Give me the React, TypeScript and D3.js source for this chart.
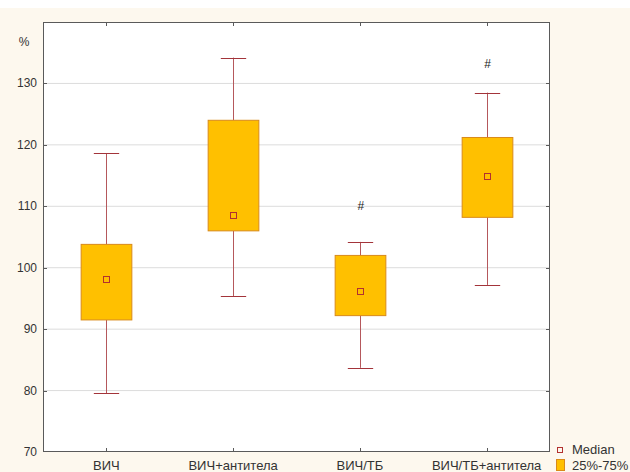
import React, { useEffect, useRef } from 'react';
import * as d3 from 'd3';

// groups and box stats (in %)
const groups = ['ВИЧ', 'ВИЧ+антитела', 'ВИЧ/ТБ', 'ВИЧ/ТБ+антитела'];
const whiskerMin = [79.6, 95.4, 83.7, 97.2];
const q25 = [91.5, 106.0, 92.2, 108.2];
const medians = [98.2, 108.6, 96.2, 115.0];
const q75 = [103.8, 124.0, 102.0, 121.2];
const whiskerMax = [118.6, 134.2, 104.2, 128.5];
// significance marks (#) above groups
const markGroups = ['ВИЧ/ТБ', 'ВИЧ/ТБ+антитела'];
const markValues = [110.0, 133.2];
const yTicks = [70, 80, 90, 100, 110, 120, 130];

const App = () => {
  const ref = useRef<SVGSVGElement>(null);

  useEffect(() => {
    const svg = d3.select(ref.current);
    svg.selectAll('*').remove();

    const width = 630;
    const height = 472;
    const left = 43, right = 550, top = 22, bottom = 452;
    const font = '"Liberation Sans", Arial, sans-serif';

    const x = d3.scaleBand().domain(groups).range([left, right]).padding(0);
    const y = d3.scaleLinear().domain([70, 140]).range([bottom, top]);
    const boxW = x.bandwidth() * 0.4;
    const capW = x.bandwidth() * 0.2;

    // background
    svg.append('rect').attr('x', 0).attr('y', 8).attr('width', width).attr('height', height - 8).attr('fill', '#fdf8ee');
    svg.append('rect').attr('x', left).attr('y', top).attr('width', right - left).attr('height', bottom - top).attr('fill', '#ffffff');

    // grid
    svg.append('g')
      .selectAll('line')
      .data(yTicks.slice(1))
      .join('line')
      .attr('x1', left).attr('x2', right)
      .attr('y1', d => y(d)).attr('y2', d => y(d))
      .attr('stroke', '#dcdcdc').attr('stroke-width', 1);

    const data = groups.map((g, i) => ({
      g, lo: whiskerMin[i], q1: q25[i], med: medians[i], q3: q75[i], hi: whiskerMax[i],
    }));

    const boxes = svg.append('g');
    data.forEach(d => {
      const cx = Math.round(x(d.g)! + x.bandwidth() / 2) + 0.5;
      // whisker stems
      boxes.append('line').attr('x1', cx).attr('x2', cx).attr('y1', y(d.hi)).attr('y2', y(d.q3))
        .attr('stroke', '#b5585c').attr('stroke-width', 1);
      boxes.append('line').attr('x1', cx).attr('x2', cx).attr('y1', y(d.q1)).attr('y2', y(d.lo))
        .attr('stroke', '#b5585c').attr('stroke-width', 1);
      // caps
      [d.hi, d.lo].forEach(v => {
        boxes.append('line').attr('x1', cx - capW / 2).attr('x2', cx + capW / 2)
          .attr('y1', Math.round(y(v)) + 0.5).attr('y2', Math.round(y(v)) + 0.5)
          .attr('stroke', '#a3343a').attr('stroke-width', 1);
      });
      // box
      boxes.append('rect')
        .attr('x', cx - boxW / 2).attr('y', y(d.q3))
        .attr('width', boxW).attr('height', y(d.q1) - y(d.q3))
        .attr('fill', '#ffc000').attr('stroke', '#d98a1a').attr('stroke-width', 1);
      // median marker
      boxes.append('rect')
        .attr('x', cx - 3).attr('y', Math.round(y(d.med)) - 2.5)
        .attr('width', 6).attr('height', 6)
        .attr('fill', 'none').attr('stroke', '#b2312f').attr('stroke-width', 1);
    });

    // # marks
    svg.append('g')
      .selectAll('text')
      .data(markGroups.map((g, i) => ({ g, v: markValues[i] })))
      .join('text')
      .attr('x', d => x(d.g)! + x.bandwidth() / 2 + 1)
      .attr('y', d => y(d.v) + 4)
      .attr('text-anchor', 'middle')
      .attr('font-family', font).attr('font-size', 12).attr('fill', '#222')
      .text('#');

    // frame
    svg.append('rect').attr('x', left + 0.5).attr('y', top + 0.5)
      .attr('width', right - left - 1).attr('height', bottom - top - 1)
      .attr('fill', 'none').attr('stroke', '#5a5a5a').attr('stroke-width', 1);

    // inner ticks on all four sides
    const ticks = svg.append('g').attr('stroke', '#5a5a5a').attr('stroke-width', 1);
    yTicks.slice(1).forEach(v => {
      const ty = Math.round(y(v)) + 0.5;
      ticks.append('line').attr('x1', left).attr('x2', left + 4).attr('y1', ty).attr('y2', ty);
      ticks.append('line').attr('x1', right - 4).attr('x2', right).attr('y1', ty).attr('y2', ty);
    });
    groups.forEach(g => {
      const tx = Math.round(x(g)! + x.bandwidth() / 2) + 0.5;
      ticks.append('line').attr('x1', tx).attr('x2', tx).attr('y1', bottom - 4).attr('y2', bottom);
      ticks.append('line').attr('x1', tx).attr('x2', tx).attr('y1', top).attr('y2', top + 4);
    });

    // y labels
    svg.append('g')
      .selectAll('text')
      .data(yTicks)
      .join('text')
      .attr('x', 37).attr('y', d => y(d) + 4)
      .attr('text-anchor', 'end')
      .attr('font-family', font).attr('font-size', 12).attr('fill', '#333')
      .text(d => d);

    svg.append('text').attr('x', 24).attr('y', 46).attr('text-anchor', 'middle')
      .attr('font-family', font).attr('font-size', 12).attr('fill', '#333').text('%');

    // x labels
    svg.append('g')
      .selectAll('text')
      .data(groups)
      .join('text')
      .attr('x', d => x(d)! + x.bandwidth() / 2)
      .attr('y', 470)
      .attr('text-anchor', 'middle')
      .attr('font-family', font).attr('font-size', 13).attr('fill', '#333')
      .text(d => d);

    // legend
    const legend = svg.append('g').attr('font-family', font).attr('font-size', 13).attr('fill', '#333');
    legend.append('rect').attr('x', 557.5).attr('y', 447.5).attr('width', 5).attr('height', 5)
      .attr('fill', 'none').attr('stroke', '#b2312f');
    legend.append('text').attr('x', 572).attr('y', 454).text('Median');
    legend.append('rect').attr('x', 556.5).attr('y', 459.5).attr('width', 8).attr('height', 11)
      .attr('fill', '#ffc000').attr('stroke', '#d98a1a');
    legend.append('text').attr('x', 572).attr('y', 470).text('25%-75%');
  }, []);

  return (
    <svg ref={ref} width={630} height={472}
      style={{ position: 'absolute', left: 0, top: 0, background: '#ffffff' }} />
  );
};

export default App;
